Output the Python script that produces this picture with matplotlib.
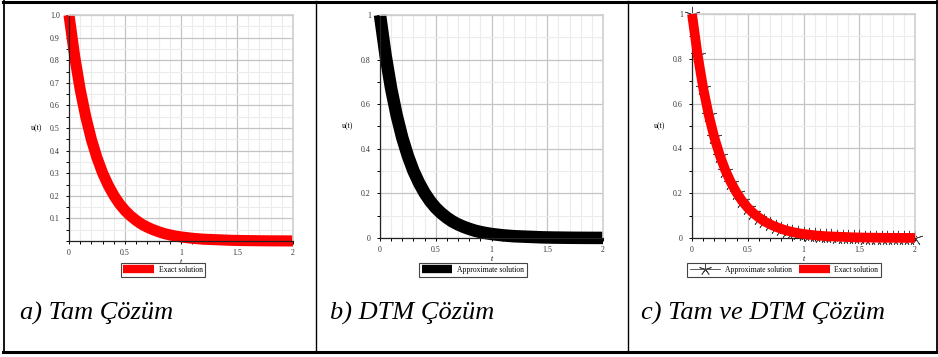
import matplotlib
matplotlib.use("Agg")
import matplotlib.pyplot as plt
from matplotlib.lines import Line2D
from matplotlib.ticker import MultipleLocator

# Sampled solution values u(t) on 0 <= t <= 2
t_vals = [0.00, 0.05, 0.10, 0.15, 0.20, 0.25, 0.30, 0.35, 0.40, 0.45,
          0.50, 0.55, 0.60, 0.65, 0.70, 0.75, 0.80, 0.85, 0.90, 0.95,
          1.00, 1.05, 1.10, 1.15, 1.20, 1.25, 1.30, 1.35, 1.40, 1.45,
          1.50, 1.55, 1.60, 1.65, 1.70, 1.75, 1.80, 1.85, 1.90, 1.95, 2.00]
u_exact = [1.000, 0.819, 0.670, 0.549, 0.449, 0.368, 0.301, 0.247, 0.202, 0.165,
           0.135, 0.111, 0.091, 0.074, 0.061, 0.050, 0.041, 0.033, 0.027, 0.022,
           0.018, 0.015, 0.012, 0.010, 0.008, 0.007, 0.006, 0.005, 0.004, 0.003,
           0.0025, 0.0020, 0.0017, 0.0014, 0.0011, 0.0009, 0.0007, 0.0006, 0.0005,
           0.0004, 0.0003]
u_dtm = [1.000, 0.819, 0.670, 0.549, 0.449, 0.368, 0.301, 0.247, 0.202, 0.165,
         0.135, 0.111, 0.091, 0.074, 0.061, 0.050, 0.041, 0.033, 0.027, 0.022,
         0.018, 0.015, 0.012, 0.010, 0.008, 0.007, 0.006, 0.005, 0.004, 0.003,
         0.0025, 0.0020, 0.0017, 0.0014, 0.0011, 0.0009, 0.0007, 0.0006, 0.0005,
         0.0004, 0.0003]

captions = ["a) Tam Çözüm", "b) DTM Çözüm", "c) Tam ve DTM Çözüm"]
label_exact = "Exact solution"
label_approx = "Approximate solution"

x_ticks = [0, 0.5, 1, 1.5, 2]
x_ticklabels = ["0", "0.5", "1", "1.5", "2"]
y_ticks_a = [0.1, 0.2, 0.3, 0.4, 0.5, 0.6, 0.7, 0.8, 0.9, 1.0]
y_ticklabels_a = ["0.1", "0.2", "0.3", "0.4", "0.5", "0.6", "0.7", "0.8", "0.9", "1.0"]
y_ticks_bc = [0, 0.2, 0.4, 0.6, 0.8, 1.0]
y_ticklabels_bc = ["0", "0.2", "0.4", "0.6", "0.8", "1"]

W, H = 938, 357
fig = plt.figure(figsize=(W / 100, H / 100), dpi=100)
fig.patch.set_facecolor("white")

serif = ["Liberation Serif", "DejaVu Serif"]
tick_fs = 5.7


def px_rect(x0, y0, x1, y1):
    return [x0 / W, 1 - y1 / H, (x1 - x0) / W, (y1 - y0) / H]


def style_axes(ax, yticks, yticklabels, yminor):
    ax.set_xlim(0, 2)
    ax.set_ylim(0, 1)
    ax.set_xticks(x_ticks)
    ax.set_xticklabels(x_ticklabels, family=serif, fontsize=tick_fs, color="#333333")
    ax.set_yticks(yticks)
    ax.set_yticklabels(yticklabels, family=serif, fontsize=tick_fs, color="#333333")
    ax.xaxis.set_minor_locator(MultipleLocator(0.1))
    ax.yaxis.set_minor_locator(MultipleLocator(yminor))
    ax.grid(which="major", color="#c4c4c4", linewidth=0.9)
    ax.grid(which="minor", color="#ececec", linewidth=0.8)
    ax.set_axisbelow(True)
    for side in ("top", "right"):
        ax.spines[side].set_color("#cfcfcf")
        ax.spines[side].set_linewidth(1.2)
    for side in ("left", "bottom"):
        ax.spines[side].set_color("#222222")
        ax.spines[side].set_linewidth(0.9)
    ax.tick_params(which="major", length=2.5, width=0.7, pad=3, direction="out")
    ax.tick_params(which="minor", length=2.0, width=0.7, direction="out")
    ax.tick_params(axis="y", which="both", pad=4)
    ax.set_xlabel("t", family=serif, fontsize=tick_fs, style="italic", labelpad=1)
    ax.set_ylabel("u(t)", family=serif, fontsize=tick_fs, rotation=0, labelpad=10,
                  va="center")


ax_a = fig.add_axes(px_rect(69, 15, 293, 241))
ax_b = fig.add_axes(px_rect(380, 15, 603, 238))
ax_c = fig.add_axes(px_rect(692, 14, 915, 238))

for ax in (ax_a, ax_b, ax_c):
    ax.set_facecolor("white")

# a) exact solution
ax_a.plot(t_vals, u_exact, color="#ff0000", linewidth=8, solid_capstyle="butt",
          solid_joinstyle="round", label=label_exact, clip_on=False)
style_axes(ax_a, y_ticks_a, y_ticklabels_a, 0.05)

# b) DTM approximate solution
ax_b.plot(t_vals, u_dtm, color="black", linewidth=9, solid_capstyle="butt",
          solid_joinstyle="round", label=label_approx, clip_on=False)
style_axes(ax_b, y_ticks_bc, y_ticklabels_bc, 0.1)

# c) both solutions overlaid
star = (5, 2, 0)
ax_c.plot(t_vals, u_dtm, linestyle="none", marker=star, markersize=11,
          markeredgewidth=0.5, color="#444444", label=label_approx, clip_on=False,
          zorder=2)
ax_c.plot(t_vals, u_exact, color="#ff0000", linewidth=7, solid_capstyle="butt",
          solid_joinstyle="round", label=label_exact, clip_on=False, zorder=3)
style_axes(ax_c, y_ticks_bc, y_ticklabels_bc, 0.1)

# legends below each plot
legend_kw = dict(loc="center", frameon=True, fancybox=False, framealpha=1,
                 edgecolor="#444444", prop={"family": serif, "size": 5.5},
                 handlelength=4.0, handletextpad=0.6, borderpad=0.35,
                 columnspacing=1.0, borderaxespad=0)

h_a = [Line2D([], [], color="#ff0000", linewidth=6, solid_capstyle="butt")]
leg = fig.legend(h_a, [label_exact], bbox_to_anchor=(163 / W, 1 - 270 / H), **legend_kw)
leg.get_frame().set_linewidth(0.8)

h_b = [Line2D([], [], color="black", linewidth=6, solid_capstyle="butt")]
leg = fig.legend(h_b, [label_approx], bbox_to_anchor=(473 / W, 1 - 270 / H), **legend_kw)
leg.get_frame().set_linewidth(0.8)

h_c = [Line2D([], [], color="#444444", linewidth=0.6, marker=star, markersize=9,
              markeredgewidth=0.6),
       Line2D([], [], color="#ff0000", linewidth=6, solid_capstyle="butt")]
leg = fig.legend(h_c, [label_approx, label_exact], ncol=2,
                 bbox_to_anchor=(784 / W, 1 - 270 / H), **legend_kw)
leg.get_frame().set_linewidth(0.8)

# captions
for x, text in zip([20, 330, 641], captions):
    fig.text(x / W, 1 - 320 / H, text, family=serif, style="italic",
             fontsize=19, ha="left", va="baseline", color="black")


# table frame around the three panels
def fig_line(x0, y0, x1, y1, lw):
    fig.add_artist(Line2D([x0 / W, x1 / W], [1 - y0 / H, 1 - y1 / H],
                          color="black", linewidth=lw, transform=fig.transFigure))


fig_line(3, 1.5, 937, 1.5, 2.2)
fig_line(3, 352, 937, 352, 2.2)
fig_line(3.5, 1, 3.5, 352.5, 1.3)
fig_line(936.5, 1, 936.5, 352.5, 1.3)
fig_line(315.5, 1, 315.5, 352, 1.0)
fig_line(627.5, 1, 627.5, 352, 1.0)

fig.savefig("out.png", dpi=100, facecolor="white")
